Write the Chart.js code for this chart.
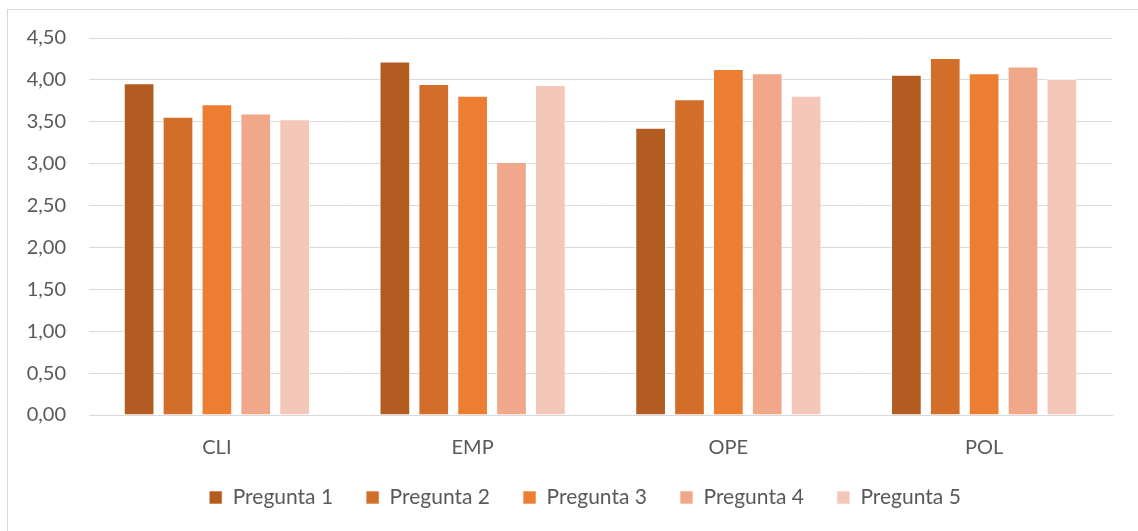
<!DOCTYPE html>
<html>
<head>
<meta charset="utf-8">
<script src="https://cdn.jsdelivr.net/npm/chart.js@4/dist/chart.umd.min.js"></script>
<style>
  html, body { margin: 0; padding: 0; background: #fff; overflow: hidden; }
  #wrap {
    position: absolute; left: 7px; top: 9px;
    width: 1142px; height: 526px;
    border: 1px solid #D9D9D9;
  }
</style>
</head>
<body>
<div id="wrap"><canvas id="chart"></canvas></div>
<script>
// Data
const categories = ['CLI', 'EMP', 'OPE', 'POL'];
const seriesNames = ['Pregunta 1', 'Pregunta 2', 'Pregunta 3', 'Pregunta 4', 'Pregunta 5'];
const pregunta1 = [3.96, 4.22, 3.43, 4.06];
const pregunta2 = [3.56, 3.95, 3.77, 4.26];
const pregunta3 = [3.71, 3.81, 4.13, 4.08];
const pregunta4 = [3.60, 3.02, 4.08, 4.16];
const pregunta5 = [3.53, 3.94, 3.81, 4.01];
const colors = ['#B35C21', '#D36E2A', '#ED7D31', '#F1A88A', '#F5C7B8'];

const allSeries = [pregunta1, pregunta2, pregunta3, pregunta4, pregunta5];
const fontFamily = 'Lato, "Open Sans", sans-serif';

// nudge the legend a bit to the right, like the original
const legendShift = {
    id: 'legendShift',
    afterLayout(chart) {
        chart.legend.left += 50;
    }
};

const ctx = document.getElementById('chart').getContext('2d');
new Chart(ctx, {
    type: 'bar',
    data: {
        labels: categories,
        datasets: allSeries.map((vals, i) => ({
            label: seriesNames[i],
            data: vals,
            backgroundColor: colors[i],
            borderColor: 'rgba(255,255,255,0.6)',
            borderWidth: 1,
            barPercentage: 0.79,
            categoryPercentage: 0.76
        }))
    },
    plugins: [legendShift],
    options: {
        responsive: true,
        maintainAspectRatio: false,
        animation: false,
        layout: { padding: { top: 0, right: 38, left: 0, bottom: 18 } },
        plugins: {
            legend: {
                position: 'bottom',
                labels: {
                    boxWidth: 13,
                    boxHeight: 13,
                    padding: 33,
                    color: '#595959',
                    font: { family: fontFamily, size: 21 }
                }
            },
            tooltip: { enabled: false }
        },
        scales: {
            x: {
                afterFit: (s) => { s.height = 39; },
                grid: { display: false, drawTicks: false },
                border: { color: '#D9D9D9', width: 1 },
                ticks: {
                    color: '#595959',
                    padding: 21,
                    font: { family: fontFamily, size: 20 }
                }
            },
            y: {
                min: 0,
                max: 4.5,
                afterFit: (s) => {
                    s.width = 81;
                    s.paddingTop = 28;
                    s.paddingBottom = 0;
                },
                grid: { color: '#D9D9D9', lineWidth: 1, drawTicks: false },
                border: { display: false },
                ticks: {
                    stepSize: 0.5,
                    padding: 23,
                    color: '#595959',
                    font: { family: fontFamily, size: 20 },
                    callback: (v) => v.toFixed(2).replace('.', ',')
                }
            }
        }
    }
});
</script>
</body>
</html>
